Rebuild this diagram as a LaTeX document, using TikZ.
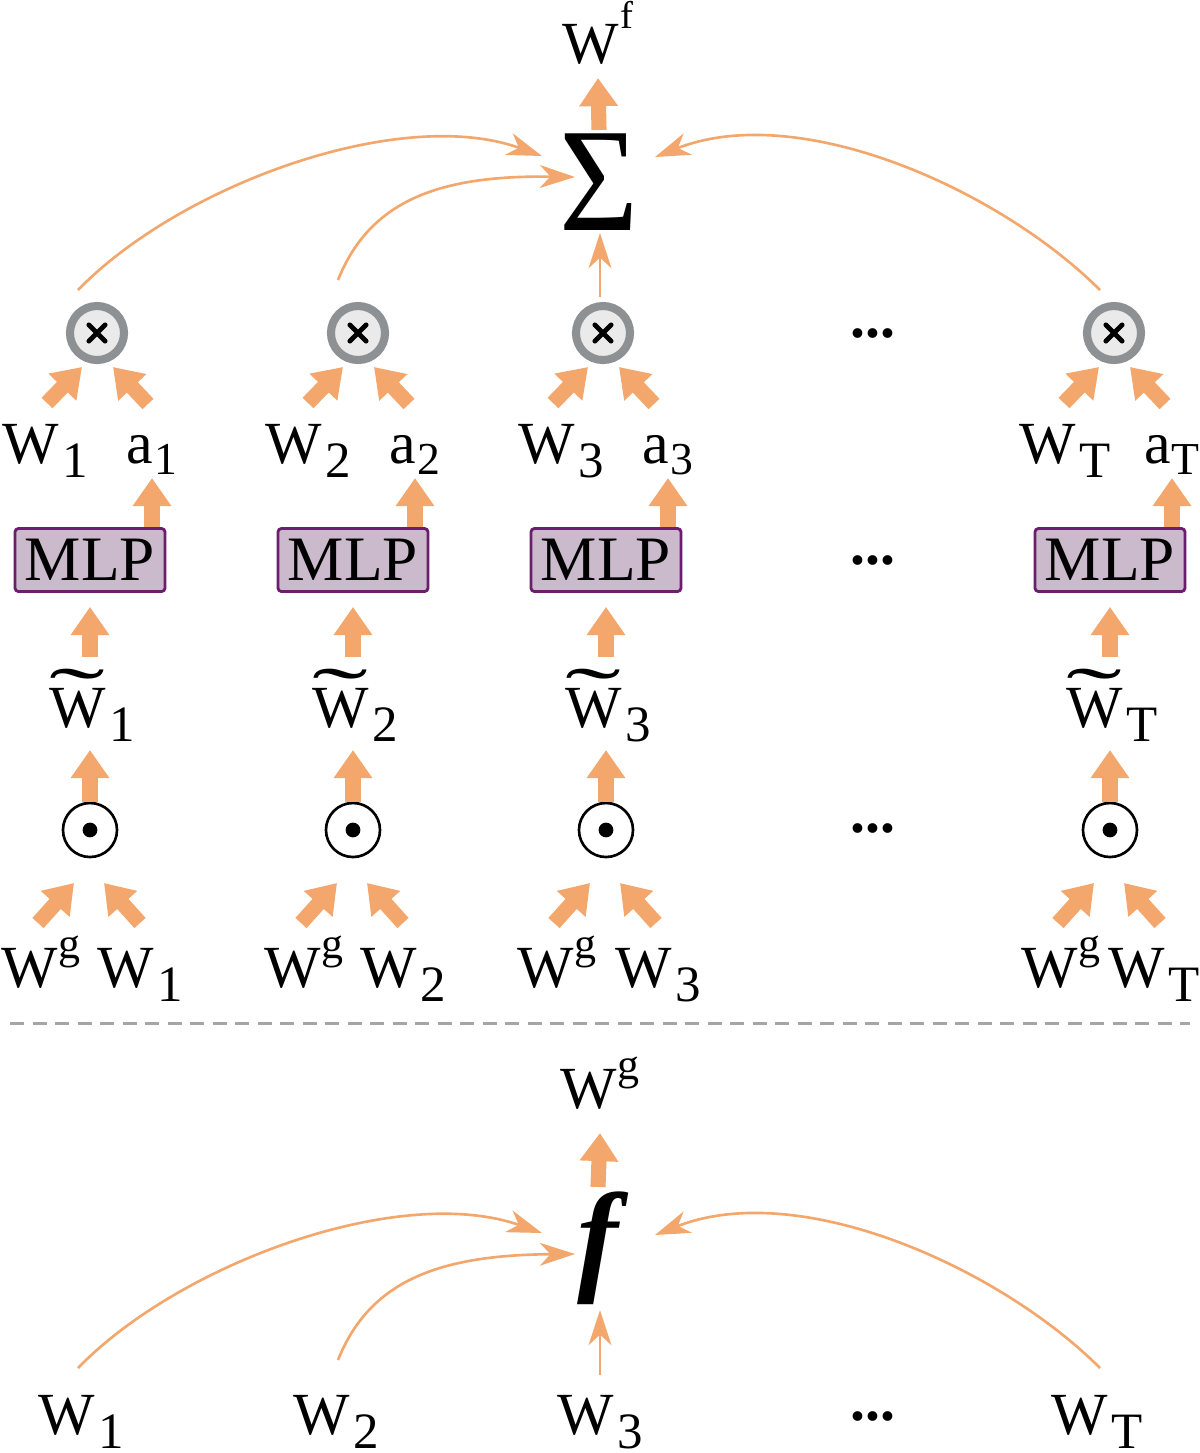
\documentclass[tikz,border=0pt]{standalone}
\usepackage{fontspec}
\setmainfont{Liberation Serif}
\usepackage{graphicx}
\usetikzlibrary{arrows.meta,calc}
\definecolor{org}{HTML}{F3A76C}
\definecolor{ringgray}{HTML}{8E9194}
\definecolor{innergray}{HTML}{EAEAEB}
\definecolor{mlpfill}{HTML}{CABACB}
\definecolor{mlpdraw}{HTML}{6B1E6B}
\definecolor{dashgray}{HTML}{A5A5A5}
\newcommand\lsb[1]{\kern0.06em\raisebox{-0.25em}{\fontsize{14.5}{16}\selectfont #1}}
\newcommand\asb[1]{\kern0.02em\raisebox{-0.2em}{\fontsize{13}{15}\selectfont #1}}
\newcommand\lsp[1]{\raisebox{0.48em}{\fontsize{12.5}{14}\selectfont #1}}
\newcommand\tW{\leavevmode\rlap{\hbox to 0.944em{\hss\raisebox{0.1em}{\scalebox{2.8}[1.3]{\char"02DC}}\hss}}W}
\begin{document}
\begin{tikzpicture}[x=0.01cm,y=-0.01cm,
  lab/.style={font=\fontsize{17}{20}\selectfont, inner sep=0pt, anchor=base},
  dts/.style={font=\fontsize{17}{20}\selectfont\bfseries, inner sep=0pt, anchor=base},
  fat/.style={draw=org, line width=4.3pt, -{Triangle[width=10.5pt,length=8pt]}},
  thn/.style={draw=org, line width=0.75pt, -{Stealth[length=10pt,width=6.5pt,inset=3pt]}},
  mlpbox/.style={draw=mlpdraw, fill=mlpfill, line width=0.8pt, rounded corners=1pt,
     minimum width=1.5cm, minimum height=0.63cm, inner sep=0pt, font=\fontsize{18}{20}\selectfont},
  otim/.style={circle, draw=ringgray, fill=innergray, line width=2.3pt, minimum size=0.54cm, inner sep=0pt,
     path picture={\draw[line width=1.4pt,line cap=round,black]
       ([shift={(-2.3pt,-2.3pt)}]path picture bounding box.center) -- ([shift={(2.3pt,2.3pt)}]path picture bounding box.center)
       ([shift={(-2.3pt,2.3pt)}]path picture bounding box.center) -- ([shift={(2.3pt,-2.3pt)}]path picture bounding box.center);}},
  odt/.style={circle, draw=black, line width=0.75pt, minimum size=0.54cm, inner sep=0pt,
     path picture={\fill[black] (path picture bounding box.center) circle (2.1pt);}}
]
\useasboundingbox (0,0) rectangle (1200,1453);

% ---------- top part: columns ----------
\foreach \i/\c/\o/\lb/\wo in {1/90/97/1/50, 2/353/358/2/50, 3/606/603/3/52, 4/1110/1114/T/44}{
  \node[otim] (ot\i) at (\o,333) {};
  \node[lab] (w\i) at (\c-45,463) {W\lsb{\lb}};
  \node[lab] (a\i) at (\c+62,463) {a\asb{\lb}};
  \node[mlpbox] (mlp\i) at (\c,560) {MLP};
  \node[lab] (tw\i) at (\c+2,727) {\tW\lsb{\lb}};
  \node[odt] (od\i) at (\c,830) {};
  \node[lab] (wg\i) at (\c-49,987) {W\lsp{g}};
  \node[lab] (wi\i) at (\c+\wo,987) {W\lsb{\lb}};
  % arrows
  \draw[fat] ($(ot\i)+(-50,70)$) -- ($(ot\i)+(-15,34)$);
  \draw[fat] ($(ot\i)+(51,71)$) -- ($(ot\i)+(16,34)$);
  \draw[fat] (mlp\i.north -| a\i) -- ($(a\i.base)+(0,15)$);
  \draw[fat] ($(tw\i.base)+(-2,-70)$) -- ($(mlp\i.south)+(0,14)$);
  \draw[fat] (od\i.north) -- ($(tw\i.base)+(-2,23)$);
  \draw[fat] ($(od\i)+(-52,93)$) -- ($(od\i)+(-16,53)$);
  \draw[fat] ($(od\i)+(50,93)$) -- ($(od\i)+(14,53)$);
}

\node[dts] (d1) at (873,337) {...};
\node[dts] (d2) at (873,564) {...};
\node[dts] (d3) at (873,832) {...};

% sigma
\node[inner sep=0pt, font=\fontsize{42}{42}\selectfont] (sig) at (599,182) {\scalebox{0.92}[1]{Σ}};
\node[lab] (wf) at (598,63) {W\kern0.02em\raisebox{0.58em}{\fontsize{11}{12}\selectfont f}};
\draw[fat] ($(sig)+(0,-52)$) -- ($(wf.base)+(0,15)$);

\draw[thn] ($(ot1)+(-19,-43)$) .. controls (180,185) and (400,105) .. ($(sig)+(-57,-26)$);
\draw[thn] ($(ot2)+(-20,-53)$) .. controls (370,200) and (440,175) .. ($(sig)+(-24,-5)$);
\draw[thn] ($(ot3)+(-3,-36)$) -- ($(sig)+(1,51)$);
\draw[thn] ($(ot4)+(-14,-43)$) .. controls (1000,190) and (800,100) .. ($(sig)+(56,-25)$);

% dashed separator
\coordinate (dl) at (10,1023);
\coordinate (dr) at (1190,1023);
\draw[dashgray, line width=0.85pt, dash pattern=on 4pt off 2.4pt] (dl) -- (dr);

% ---------- bottom part ----------
\node[lab] (wgm) at (600,1108) {W\lsp{g}};
\node[inner sep=0pt, font=\fontsize{35}{35}\selectfont\bfseries\itshape] (fn) at (598,1248) {f};
\draw[fat] ($(fn)+(0,-61)$) -- ($(wgm.base)+(0,25)$);

\node[lab] (bw1) at (81,1434) {W\lsb{1}};
\node[lab] (bw2) at (336,1434) {W\lsb{2}};
\node[lab] (bw3) at (600,1434) {W\lsb{3}};
\node[lab] (bw4) at (1097,1434) {W\lsb{T}};
\node[dts] (d4) at (873,1420) {...};

\draw[thn] ($(bw1.base)+(-3,-66)$) .. controls (180,1263) and (400,1183) .. ($(fn)+(-56,-15)$);
\draw[thn] ($(bw2.base)+(2,-74)$) .. controls (370,1280) and (440,1255) .. ($(fn)+(-23,6)$);
\draw[thn] ($(bw3.base)+(0,-59)$) -- ($(fn)+(2,62)$);
\draw[thn] ($(bw4.base)+(3,-66)$) .. controls (1000,1268) and (800,1178) .. ($(fn)+(57,-13)$);
\end{tikzpicture}
\end{document}
